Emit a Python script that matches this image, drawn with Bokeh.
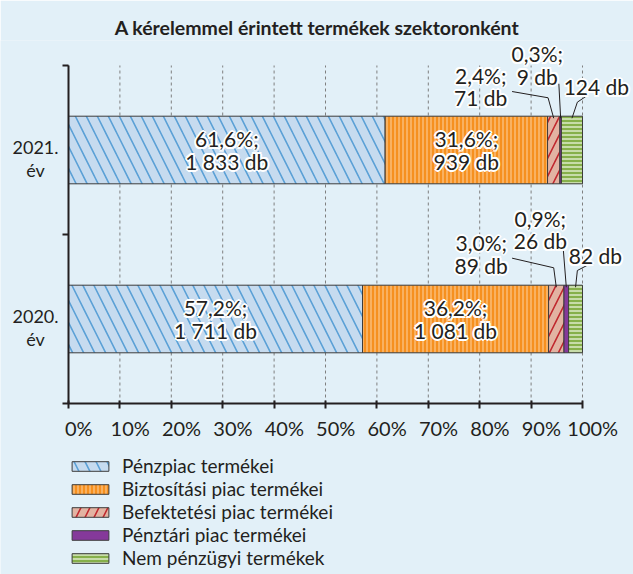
from bokeh.plotting import figure
from bokeh.models import Range1d, FixedTicker, Legend, LegendItem, LinearAxis
from bokeh.core.properties import value
from bokeh.embed import file_html
from bokeh.resources import INLINE

# ---------------- data ----------------
years = ["2020.\név", "2021.\név"]          # bottom -> top
sectors = ["Pénzpiac termékei", "Biztosítási piac termékei", "Befektetési piac termékei",
           "Pénztári piac termékei", "Nem pénzügyi termékek"]
pct_2020 = [57.2, 36.2, 3.0, 0.9, 2.7]
pct_2021 = [61.6, 31.6, 2.4, 0.3, 4.1]
db_2020 = [1711, 1081, 89, 26, 82]
db_2021 = [1833, 939, 71, 9, 124]
x_ticks = [0, 10, 20, 30, 40, 50, 60, 70, 80, 90, 100]
x_tick_labels = ["0%", "10%", "20%", "30%", "40%", "50%", "60%", "70%", "80%", "90%", "100%"]
title_text = "A kérelemmel érintett termékek szektoronként"

pcts = [pct_2020, pct_2021]
dbs = [db_2020, db_2021]

# ---------------- styles / layout ----------------
FONT = "Lato"
BG = "#e2f0f8"
INK = "#231f20"
styles = [
    dict(fill_color="#c6dbef", hatch_pattern="\\", hatch_color="#5aa0d6", hatch_scale=22, hatch_weight=1.6),
    dict(fill_color="#f6901f", hatch_pattern="|", hatch_color="#fcd2a2", hatch_scale=4, hatch_weight=1),
    dict(fill_color="#e2b3a2", hatch_pattern="/", hatch_color="#c0272d", hatch_scale=18, hatch_weight=1.6),
    dict(fill_color="#85399a"),
    dict(fill_color="#86b04a", hatch_pattern="-", hatch_color="#dcebc8", hatch_scale=4, hatch_weight=1.5),
]

# callout annotations: (year index, sector index, label x, label y, leader path x, leader path y) in data units
callouts = [
    (1, 2, 80.2, 1.876, [86.3, 93.3], [1.846, 1.809]),
    (1, 3, 91.2, 2.003, [95.4], [1.892]),
    (1, 4, 102.7, 1.873, [100.9, 99.0], [1.822, 1.783]),
    (0, 2, 80.3, 0.885, [86.3, 94.4], [0.860, 0.803]),
    (0, 3, 91.8, 1.030, [96.2], [0.935]),
    (0, 4, 102.5, 0.873, [101.2, 99.0], [0.822, 0.787]),
]

BAR_H = 0.4
CAT_LABEL_DY = 0.05
NBSP = "\u00a0"

p = figure(width=633, height=574, x_range=Range1d(-13.230, 109.922), y_range=Range1d(-1.0118, 2.1479),
           output_backend="svg", toolbar_location=None,
           x_axis_location=None, y_axis_location=None,
           min_border_left=0, min_border_right=0, min_border_top=40, min_border_bottom=0)
p.background_fill_color = BG
p.border_fill_color = BG
p.outline_line_color = None
p.grid.visible = False

p.title.text = title_text
p.title.align = "center"
p.title.text_font = FONT
p.title.text_font_size = "19.5px"
p.title.text_font_style = "bold"
p.title.text_color = INK
p.title.offset = 7
p.title.standoff = 3

def fmt_pct(v):
    return f"{v:.1f}".replace(".", ",") + "%;"

def fmt_db(n):
    return f"{n:,}".replace(",", " ") + " db"

yc = [i + 0.5 for i in range(len(years))]

# dotted vertical grid lines between the axis bounds
p.segment(x0=x_ticks, x1=x_ticks, y0=[0] * len(x_ticks), y1=[len(years)] * len(x_ticks),
          line_color="#7f7f7f", line_dash="3 3", line_width=1)

renderers = []
seg_left = [[0] * len(sectors) for _ in years]
for s in range(len(sectors)):
    lefts, rights = [], []
    for yi in range(len(years)):
        left = sum(pcts[yi][:s])
        seg_left[yi][s] = left
        lefts.append(left)
        rights.append(left + pcts[yi][s])
    r = p.hbar(y=yc, left=lefts, right=rights, height=BAR_H, line_color="#3c3c3c", line_width=1,
               **styles[s])
    renderers.append(r)

# value labels
lx, ly, lt = [], [], []
for yi in range(len(years)):
    for s in (0, 1):
        lx.append(seg_left[yi][s] + pcts[yi][s] / 2)
        ly.append(yc[yi])
        lt.append(fmt_pct(pcts[yi][s]) + "\n" + fmt_db(dbs[yi][s]))

xs, ys = [], []
for yi, s, tx, ty, px, py in callouts:
    lx.append(tx)
    ly.append(ty)
    if s == 4:
        lt.append(fmt_db(dbs[yi][s]))
    else:
        lt.append(fmt_pct(pcts[yi][s]) + "\n" + fmt_db(dbs[yi][s]))
    cx = seg_left[yi][s] + pcts[yi][s] / 2
    xs.append(px + [cx])
    ys.append(py + [yc[yi] + BAR_H / 2 - 0.012])

p.multi_line(xs=xs, ys=ys, line_color=INK, line_width=1)

halo = [(2, 0), (-2, 0), (0, 2), (0, -2), (1.4, 1.4), (1.4, -1.4), (-1.4, 1.4), (-1.4, -1.4)]
for dx, dy in halo:
    p.text(x=lx, y=ly, text=lt, x_offset=dx, y_offset=dy, text_align="center", text_baseline="middle",
           text_font=value(FONT), text_font_size="21px", text_color="white", text_line_height=0.91)
p.text(x=lx, y=ly, text=lt, text_align="center", text_baseline="middle",
       text_font=value(FONT), text_font_size="21px", text_color=INK, text_line_height=0.91)

# category labels
p.text(x=[0] * len(years), y=[c - CAT_LABEL_DY for c in yc], text=years, x_offset=-33,
       text_align="center", text_baseline="middle", text_font=value(FONT), text_font_size="18px",
       text_color=INK, text_line_height=1.02)

# axes inside the frame
xaxis = LinearAxis(fixed_location=0, bounds=(0, 100))
xaxis.ticker = FixedTicker(ticks=x_ticks)
xaxis.major_label_overrides = {t: NBSP * 4 + l for t, l in zip(x_ticks, x_tick_labels)}
xaxis.major_label_text_font = FONT
xaxis.major_label_text_font_size = "20px"
xaxis.major_label_text_color = INK
xaxis.axis_line_width = 2
xaxis.axis_line_color = INK
xaxis.major_tick_line_color = INK
xaxis.major_tick_line_width = 2
xaxis.major_tick_in = 3
xaxis.major_tick_out = 5
xaxis.minor_tick_line_color = None
xaxis.major_label_standoff = 7
p.add_layout(xaxis, "below")

yaxis = LinearAxis(fixed_location=0, bounds=(0, len(years)))
yaxis.ticker = FixedTicker(ticks=[], minor_ticks=list(range(len(years) + 1)))
yaxis.axis_line_width = 2
yaxis.axis_line_color = INK
yaxis.major_tick_line_color = None
yaxis.minor_tick_line_color = INK
yaxis.minor_tick_line_width = 2
yaxis.minor_tick_in = 0
yaxis.minor_tick_out = 6
p.add_layout(yaxis, "left")

legend = Legend(items=[LegendItem(label=sectors[i], renderers=[renderers[i]]) for i in range(len(sectors))],
                location=(67, 5), orientation="vertical")
legend.background_fill_alpha = 0
legend.border_line_color = None
legend.label_text_font = FONT
legend.label_text_font_size = "19px"
legend.label_text_color = INK
legend.glyph_width = 46
legend.glyph_height = 12
legend.label_height = 20
legend.spacing = 0
legend.label_standoff = 9
legend.padding = 0
legend.margin = 0
p.add_layout(legend, "center")

open("out.html", "w").write(file_html(p, INLINE))
